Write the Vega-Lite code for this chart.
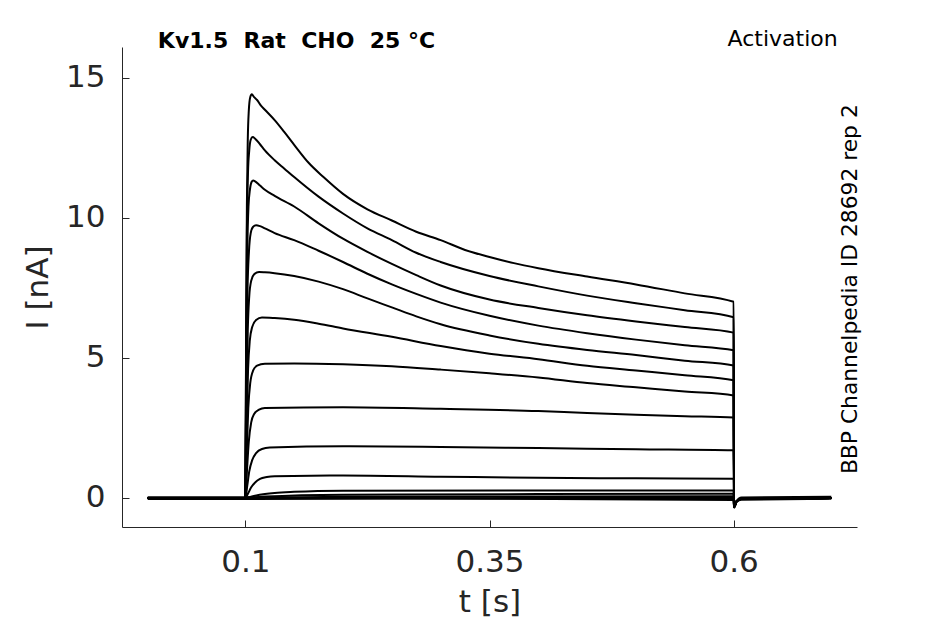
{
  "$schema": "https://vega.github.io/schema/vega-lite/v6.json",
  "width": 735,
  "height": 480,
  "autosize": "none",
  "padding": {"left": 122, "top": 47, "right": 88, "bottom": 97},
  "config": {
    "view": {"stroke": null},
    "font": "DejaVu Sans",
    "axis": {
      "grid": false,
      "domainColor": "#262626",
      "tickColor": "#262626",
      "labelColor": "#262626",
      "titleColor": "#262626",
      "labelFont": "DejaVu Sans",
      "titleFont": "DejaVu Sans",
      "labelFontSize": 31,
      "titleFontSize": 31,
      "titleFontWeight": "normal",
      "domainWidth": 1,
      "tickWidth": 1
    }
  },
  "datasets": {
    "traces": [
      {"k": 1, "t": 0, "i": 0}, {"k": 1, "t": 0.1, "i": 0}, {"k": 1, "t": 0.1008, "i": 6}, {"k": 1, "t": 0.1016, "i": 10.5}, {"k": 1, "t": 0.1025, "i": 12.8}, {"k": 1, "t": 0.1035, "i": 13.8}, {"k": 1, "t": 0.105, "i": 14.3}, {"k": 1, "t": 0.1066, "i": 14.4}, {"k": 1, "t": 0.109, "i": 14.3}, {"k": 1, "t": 0.112, "i": 14.2}, {"k": 1, "t": 0.116, "i": 14.0}, {"k": 1, "t": 0.12, "i": 13.85}, {"k": 1, "t": 0.13, "i": 13.48}, {"k": 1, "t": 0.14, "i": 13.05}, {"k": 1, "t": 0.15, "i": 12.6}, {"k": 1, "t": 0.165, "i": 11.95}, {"k": 1, "t": 0.18, "i": 11.45}, {"k": 1, "t": 0.2, "i": 10.85}, {"k": 1, "t": 0.225, "i": 10.3}, {"k": 1, "t": 0.25, "i": 9.9}, {"k": 1, "t": 0.275, "i": 9.5}, {"k": 1, "t": 0.3, "i": 9.2}, {"k": 1, "t": 0.325, "i": 8.85}, {"k": 1, "t": 0.35, "i": 8.6}, {"k": 1, "t": 0.375, "i": 8.38}, {"k": 1, "t": 0.4, "i": 8.2}, {"k": 1, "t": 0.45, "i": 7.9}, {"k": 1, "t": 0.5, "i": 7.62}, {"k": 1, "t": 0.55, "i": 7.3}, {"k": 1, "t": 0.6, "i": 7.0}, {"k": 1, "t": 0.6004, "i": -0.33}, {"k": 1, "t": 0.603, "i": -0.12}, {"k": 1, "t": 0.608, "i": -0.03}, {"k": 1, "t": 0.7, "i": 0},

      {"k": 2, "t": 0, "i": 0}, {"k": 2, "t": 0.1, "i": 0}, {"k": 2, "t": 0.1008, "i": 5.5}, {"k": 2, "t": 0.1016, "i": 9.5}, {"k": 2, "t": 0.1027, "i": 11.6}, {"k": 2, "t": 0.104, "i": 12.4}, {"k": 2, "t": 0.1055, "i": 12.78}, {"k": 2, "t": 0.1075, "i": 12.88}, {"k": 2, "t": 0.11, "i": 12.82}, {"k": 2, "t": 0.115, "i": 12.62}, {"k": 2, "t": 0.12, "i": 12.4}, {"k": 2, "t": 0.13, "i": 12.05}, {"k": 2, "t": 0.14, "i": 11.75}, {"k": 2, "t": 0.15, "i": 11.45}, {"k": 2, "t": 0.175, "i": 10.75}, {"k": 2, "t": 0.2, "i": 10.15}, {"k": 2, "t": 0.225, "i": 9.62}, {"k": 2, "t": 0.25, "i": 9.2}, {"k": 2, "t": 0.275, "i": 8.75}, {"k": 2, "t": 0.3, "i": 8.42}, {"k": 2, "t": 0.35, "i": 7.92}, {"k": 2, "t": 0.4, "i": 7.55}, {"k": 2, "t": 0.45, "i": 7.22}, {"k": 2, "t": 0.5, "i": 6.95}, {"k": 2, "t": 0.55, "i": 6.7}, {"k": 2, "t": 0.6, "i": 6.45}, {"k": 2, "t": 0.6004, "i": -0.33}, {"k": 2, "t": 0.603, "i": -0.12}, {"k": 2, "t": 0.608, "i": -0.03}, {"k": 2, "t": 0.7, "i": 0},

      {"k": 3, "t": 0, "i": 0}, {"k": 3, "t": 0.1, "i": 0}, {"k": 3, "t": 0.101, "i": 5.5}, {"k": 3, "t": 0.102, "i": 8.8}, {"k": 3, "t": 0.1032, "i": 10.4}, {"k": 3, "t": 0.1047, "i": 11.0}, {"k": 3, "t": 0.1065, "i": 11.28}, {"k": 3, "t": 0.108, "i": 11.33}, {"k": 3, "t": 0.11, "i": 11.3}, {"k": 3, "t": 0.115, "i": 11.15}, {"k": 3, "t": 0.12, "i": 11.0}, {"k": 3, "t": 0.13, "i": 10.78}, {"k": 3, "t": 0.15, "i": 10.4}, {"k": 3, "t": 0.175, "i": 9.8}, {"k": 3, "t": 0.2, "i": 9.25}, {"k": 3, "t": 0.225, "i": 8.78}, {"k": 3, "t": 0.25, "i": 8.35}, {"k": 3, "t": 0.275, "i": 7.95}, {"k": 3, "t": 0.3, "i": 7.58}, {"k": 3, "t": 0.35, "i": 7.08}, {"k": 3, "t": 0.4, "i": 6.78}, {"k": 3, "t": 0.45, "i": 6.52}, {"k": 3, "t": 0.5, "i": 6.3}, {"k": 3, "t": 0.55, "i": 6.1}, {"k": 3, "t": 0.6, "i": 5.9}, {"k": 3, "t": 0.6004, "i": -0.33}, {"k": 3, "t": 0.603, "i": -0.12}, {"k": 3, "t": 0.608, "i": -0.03}, {"k": 3, "t": 0.7, "i": 0},

      {"k": 4, "t": 0, "i": 0}, {"k": 4, "t": 0.1, "i": 0}, {"k": 4, "t": 0.101, "i": 4.5}, {"k": 4, "t": 0.1022, "i": 7.4}, {"k": 4, "t": 0.1037, "i": 8.8}, {"k": 4, "t": 0.1055, "i": 9.45}, {"k": 4, "t": 0.108, "i": 9.68}, {"k": 4, "t": 0.111, "i": 9.73}, {"k": 4, "t": 0.115, "i": 9.7}, {"k": 4, "t": 0.12, "i": 9.62}, {"k": 4, "t": 0.13, "i": 9.45}, {"k": 4, "t": 0.15, "i": 9.2}, {"k": 4, "t": 0.175, "i": 8.82}, {"k": 4, "t": 0.2, "i": 8.42}, {"k": 4, "t": 0.225, "i": 8.0}, {"k": 4, "t": 0.25, "i": 7.62}, {"k": 4, "t": 0.275, "i": 7.28}, {"k": 4, "t": 0.3, "i": 6.97}, {"k": 4, "t": 0.35, "i": 6.5}, {"k": 4, "t": 0.4, "i": 6.15}, {"k": 4, "t": 0.45, "i": 5.88}, {"k": 4, "t": 0.5, "i": 5.65}, {"k": 4, "t": 0.55, "i": 5.45}, {"k": 4, "t": 0.6, "i": 5.27}, {"k": 4, "t": 0.6004, "i": -0.33}, {"k": 4, "t": 0.603, "i": -0.12}, {"k": 4, "t": 0.608, "i": -0.03}, {"k": 4, "t": 0.7, "i": 0},

      {"k": 5, "t": 0, "i": 0}, {"k": 5, "t": 0.1, "i": 0}, {"k": 5, "t": 0.1012, "i": 3.5}, {"k": 5, "t": 0.1025, "i": 6.0}, {"k": 5, "t": 0.104, "i": 7.2}, {"k": 5, "t": 0.106, "i": 7.75}, {"k": 5, "t": 0.109, "i": 7.98}, {"k": 5, "t": 0.114, "i": 8.06}, {"k": 5, "t": 0.12, "i": 8.05}, {"k": 5, "t": 0.13, "i": 8.02}, {"k": 5, "t": 0.15, "i": 7.92}, {"k": 5, "t": 0.175, "i": 7.72}, {"k": 5, "t": 0.2, "i": 7.45}, {"k": 5, "t": 0.225, "i": 7.12}, {"k": 5, "t": 0.25, "i": 6.8}, {"k": 5, "t": 0.275, "i": 6.48}, {"k": 5, "t": 0.3, "i": 6.2}, {"k": 5, "t": 0.35, "i": 5.8}, {"k": 5, "t": 0.4, "i": 5.5}, {"k": 5, "t": 0.45, "i": 5.28}, {"k": 5, "t": 0.5, "i": 5.1}, {"k": 5, "t": 0.55, "i": 4.9}, {"k": 5, "t": 0.6, "i": 4.73}, {"k": 5, "t": 0.6004, "i": -0.33}, {"k": 5, "t": 0.603, "i": -0.12}, {"k": 5, "t": 0.608, "i": -0.03}, {"k": 5, "t": 0.7, "i": 0},

      {"k": 6, "t": 0, "i": 0}, {"k": 6, "t": 0.1, "i": 0}, {"k": 6, "t": 0.1013, "i": 2.6}, {"k": 6, "t": 0.1028, "i": 4.6}, {"k": 6, "t": 0.1045, "i": 5.6}, {"k": 6, "t": 0.107, "i": 6.1}, {"k": 6, "t": 0.111, "i": 6.35}, {"k": 6, "t": 0.117, "i": 6.44}, {"k": 6, "t": 0.13, "i": 6.42}, {"k": 6, "t": 0.15, "i": 6.36}, {"k": 6, "t": 0.175, "i": 6.22}, {"k": 6, "t": 0.2, "i": 6.05}, {"k": 6, "t": 0.25, "i": 5.75}, {"k": 6, "t": 0.3, "i": 5.42}, {"k": 6, "t": 0.35, "i": 5.15}, {"k": 6, "t": 0.4, "i": 4.95}, {"k": 6, "t": 0.45, "i": 4.72}, {"k": 6, "t": 0.5, "i": 4.55}, {"k": 6, "t": 0.55, "i": 4.38}, {"k": 6, "t": 0.6, "i": 4.2}, {"k": 6, "t": 0.6004, "i": -0.33}, {"k": 6, "t": 0.603, "i": -0.12}, {"k": 6, "t": 0.608, "i": -0.03}, {"k": 6, "t": 0.7, "i": 0},

      {"k": 7, "t": 0, "i": 0}, {"k": 7, "t": 0.1, "i": 0}, {"k": 7, "t": 0.1015, "i": 1.7}, {"k": 7, "t": 0.103, "i": 3.2}, {"k": 7, "t": 0.105, "i": 4.1}, {"k": 7, "t": 0.108, "i": 4.55}, {"k": 7, "t": 0.112, "i": 4.72}, {"k": 7, "t": 0.12, "i": 4.79}, {"k": 7, "t": 0.15, "i": 4.8}, {"k": 7, "t": 0.2, "i": 4.77}, {"k": 7, "t": 0.25, "i": 4.7}, {"k": 7, "t": 0.3, "i": 4.58}, {"k": 7, "t": 0.35, "i": 4.45}, {"k": 7, "t": 0.4, "i": 4.3}, {"k": 7, "t": 0.45, "i": 4.1}, {"k": 7, "t": 0.5, "i": 3.95}, {"k": 7, "t": 0.55, "i": 3.8}, {"k": 7, "t": 0.6, "i": 3.66}, {"k": 7, "t": 0.6004, "i": -0.33}, {"k": 7, "t": 0.603, "i": -0.12}, {"k": 7, "t": 0.608, "i": -0.03}, {"k": 7, "t": 0.7, "i": 0},

      {"k": 8, "t": 0, "i": 0}, {"k": 8, "t": 0.1, "i": 0}, {"k": 8, "t": 0.1017, "i": 1.0}, {"k": 8, "t": 0.1035, "i": 2.0}, {"k": 8, "t": 0.106, "i": 2.7}, {"k": 8, "t": 0.109, "i": 3.0}, {"k": 8, "t": 0.114, "i": 3.15}, {"k": 8, "t": 0.12, "i": 3.21}, {"k": 8, "t": 0.2, "i": 3.24}, {"k": 8, "t": 0.3, "i": 3.18}, {"k": 8, "t": 0.4, "i": 3.1}, {"k": 8, "t": 0.45, "i": 3.03}, {"k": 8, "t": 0.5, "i": 2.97}, {"k": 8, "t": 0.55, "i": 2.92}, {"k": 8, "t": 0.6, "i": 2.87}, {"k": 8, "t": 0.6004, "i": -0.33}, {"k": 8, "t": 0.603, "i": -0.12}, {"k": 8, "t": 0.608, "i": -0.03}, {"k": 8, "t": 0.7, "i": 0},

      {"k": 9, "t": 0, "i": 0}, {"k": 9, "t": 0.1, "i": 0}, {"k": 9, "t": 0.102, "i": 0.45}, {"k": 9, "t": 0.104, "i": 0.95}, {"k": 9, "t": 0.107, "i": 1.35}, {"k": 9, "t": 0.111, "i": 1.6}, {"k": 9, "t": 0.117, "i": 1.75}, {"k": 9, "t": 0.125, "i": 1.8}, {"k": 9, "t": 0.2, "i": 1.85}, {"k": 9, "t": 0.3, "i": 1.82}, {"k": 9, "t": 0.4, "i": 1.78}, {"k": 9, "t": 0.5, "i": 1.74}, {"k": 9, "t": 0.6, "i": 1.7}, {"k": 9, "t": 0.6004, "i": -0.33}, {"k": 9, "t": 0.603, "i": -0.12}, {"k": 9, "t": 0.608, "i": -0.03}, {"k": 9, "t": 0.7, "i": 0},

      {"k": 10, "t": 0, "i": 0}, {"k": 10, "t": 0.1, "i": 0}, {"k": 10, "t": 0.103, "i": 0.18}, {"k": 10, "t": 0.106, "i": 0.38}, {"k": 10, "t": 0.11, "i": 0.55}, {"k": 10, "t": 0.115, "i": 0.68}, {"k": 10, "t": 0.122, "i": 0.75}, {"k": 10, "t": 0.13, "i": 0.78}, {"k": 10, "t": 0.2, "i": 0.8}, {"k": 10, "t": 0.3, "i": 0.76}, {"k": 10, "t": 0.4, "i": 0.72}, {"k": 10, "t": 0.5, "i": 0.7}, {"k": 10, "t": 0.6, "i": 0.69}, {"k": 10, "t": 0.6004, "i": -0.33}, {"k": 10, "t": 0.603, "i": -0.12}, {"k": 10, "t": 0.608, "i": -0.03}, {"k": 10, "t": 0.7, "i": 0},

      {"k": 11, "t": 0, "i": 0}, {"k": 11, "t": 0.1, "i": 0}, {"k": 11, "t": 0.105, "i": 0.04}, {"k": 11, "t": 0.11, "i": 0.08}, {"k": 11, "t": 0.12, "i": 0.14}, {"k": 11, "t": 0.13, "i": 0.18}, {"k": 11, "t": 0.15, "i": 0.22}, {"k": 11, "t": 0.2, "i": 0.26}, {"k": 11, "t": 0.4, "i": 0.27}, {"k": 11, "t": 0.6, "i": 0.27}, {"k": 11, "t": 0.6004, "i": -0.33}, {"k": 11, "t": 0.603, "i": -0.12}, {"k": 11, "t": 0.608, "i": -0.03}, {"k": 11, "t": 0.7, "i": 0},

      {"k": 12, "t": 0, "i": 0}, {"k": 12, "t": 0.1, "i": 0}, {"k": 12, "t": 0.12, "i": 0.05}, {"k": 12, "t": 0.2, "i": 0.12}, {"k": 12, "t": 0.4, "i": 0.14}, {"k": 12, "t": 0.6, "i": 0.15}, {"k": 12, "t": 0.6004, "i": -0.33}, {"k": 12, "t": 0.603, "i": -0.12}, {"k": 12, "t": 0.608, "i": -0.03}, {"k": 12, "t": 0.7, "i": 0},

      {"k": 13, "t": 0, "i": 0}, {"k": 13, "t": 0.1, "i": 0}, {"k": 13, "t": 0.2, "i": 0.04}, {"k": 13, "t": 0.6, "i": 0.06}, {"k": 13, "t": 0.6004, "i": -0.33}, {"k": 13, "t": 0.603, "i": -0.12}, {"k": 13, "t": 0.608, "i": -0.03}, {"k": 13, "t": 0.7, "i": 0},

      {"k": 14, "t": 0, "i": 0}, {"k": 14, "t": 0.1, "i": 0}, {"k": 14, "t": 0.6, "i": -0.04}, {"k": 14, "t": 0.6004, "i": -0.33}, {"k": 14, "t": 0.603, "i": -0.12}, {"k": 14, "t": 0.608, "i": -0.03}, {"k": 14, "t": 0.7, "i": 0},

      {"k": 15, "t": 0, "i": 0.03}, {"k": 15, "t": 0.1, "i": 0.03}, {"k": 15, "t": 0.6, "i": -0.07}, {"k": 15, "t": 0.6004, "i": -0.33}, {"k": 15, "t": 0.603, "i": -0.12}, {"k": 15, "t": 0.608, "i": -0.06}, {"k": 15, "t": 0.7, "i": -0.03},

      {"k": 16, "t": 0, "i": -0.04}, {"k": 16, "t": 0.1, "i": -0.04}, {"k": 16, "t": 0.6, "i": 0.03}, {"k": 16, "t": 0.6004, "i": -0.33}, {"k": 16, "t": 0.603, "i": -0.1}, {"k": 16, "t": 0.608, "i": 0.02}, {"k": 16, "t": 0.7, "i": 0.04}
    ]
  },
  "layer": [
    {
      "data": {"name": "traces"},
      "mark": {"type": "line", "color": "black", "strokeWidth": 2, "interpolate": "monotone", "strokeJoin": "round"},
      "encoding": {
        "x": {
          "field": "t",
          "type": "quantitative",
          "scale": {"domain": [-0.0263, 0.7263], "nice": false, "zero": false},
          "axis": {"values": [0.1, 0.35, 0.6], "format": "~g", "title": "t [s]", "tickSize": -7, "labelPadding": 27, "titlePadding": 10}
        },
        "y": {
          "field": "i",
          "type": "quantitative",
          "scale": {"domain": [-1.035, 16.09], "nice": false, "zero": false},
          "axis": {"values": [0, 5, 10, 15], "format": "~g", "title": "I [nA]", "tickSize": -7, "labelPadding": 24, "titlePadding": 11}
        },
        "detail": {"field": "k", "type": "nominal"}
      }
    },
    {
      "data": {"values": [{}]},
      "mark": {"type": "text", "text": "Kv1.5\u00a0\u00a0Rat\u00a0\u00a0CHO\u00a0\u00a025\u00a0°C", "align": "left", "baseline": "alphabetic", "fontSize": 22, "fontWeight": "bold", "color": "black"},
      "encoding": {"x": {"datum": 0.0104}, "y": {"datum": 16.07}}
    },
    {
      "data": {"values": [{}]},
      "mark": {"type": "text", "text": "Activation", "align": "right", "baseline": "alphabetic", "fontSize": 22, "color": "black"},
      "encoding": {"x": {"datum": 0.7065}, "y": {"datum": 16.12}}
    },
    {
      "data": {"values": [{}]},
      "mark": {"type": "text", "text": "BBP Channelpedia ID 28692 rep 2", "align": "center", "baseline": "alphabetic", "angle": 270, "fontSize": 21.8, "color": "black"},
      "encoding": {"x": {"datum": 0.7267}, "y": {"datum": 7.45}}
    }
  ]
}
